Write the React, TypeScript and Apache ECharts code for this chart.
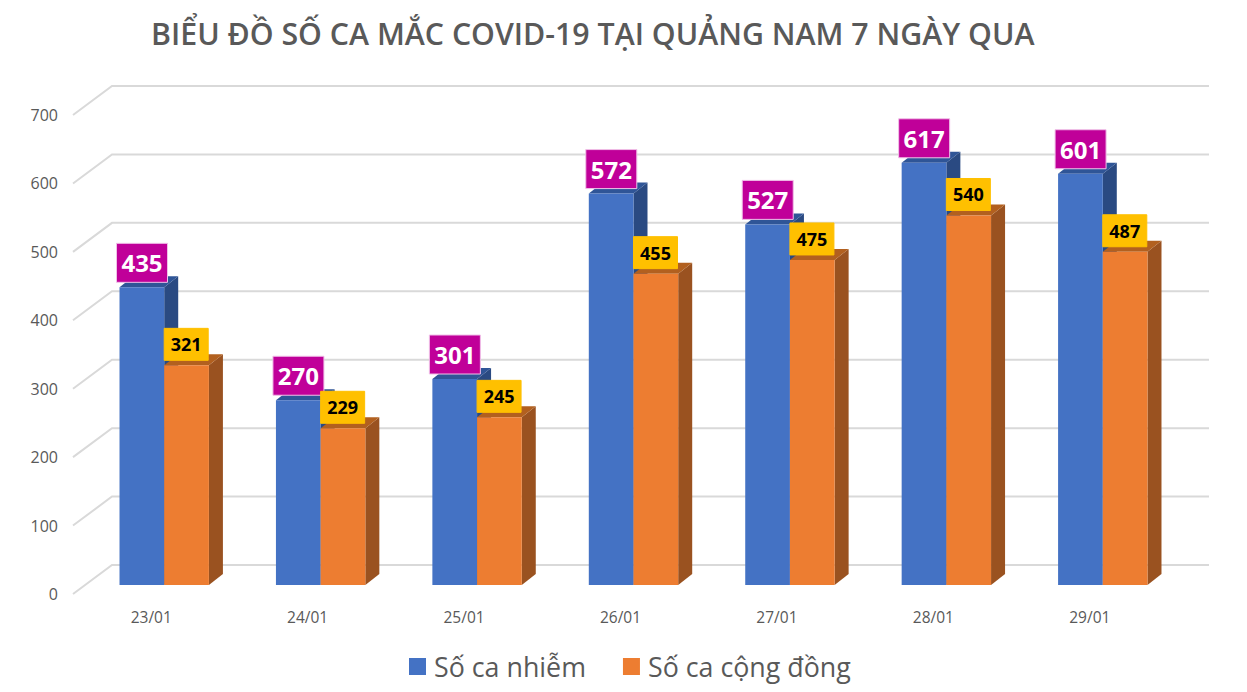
import React, { useEffect, useRef } from "react";
import * as echarts from "echarts";

const titleText = "BIỂU ĐỒ SỐ CA MẮC COVID-19 TẠI QUẢNG NAM 7 NGÀY QUA";
const categories = ["23/01", "24/01", "25/01", "26/01", "27/01", "28/01", "29/01"];
const infected = [435, 270, 301, 572, 527, 617, 601];
const community = [321, 229, 245, 455, 475, 540, 487];
const wallTicks = [0, 100, 200, 300, 400, 500, 600, 700];
const infectedName = "Số ca nhiễm";
const communityName = "Số ca cộng đồng";

const FRONT_DX = 11, FRONT_DY = -9;
const BAR_W = 44.7, DEPTH_DX = 14, DEPTH_DY = -11;
const WALL_DX = 39, WALL_DY = -29;
const FONT = '"Open Sans", "Noto Sans", sans-serif';

function bar3d(slot: number, front: string, top: string, side: string) {
  return (params: any, api: any) => {
    const i = api.value(0), v = api.value(1);
    const p = api.coord([i, v]);
    const base = api.coord([i, 0]);
    const xL = p[0] + FRONT_DX - BAR_W + slot * BAR_W + 2;
    const xR = xL + BAR_W;
    const yT = p[1] + FRONT_DY;
    const yB = base[1] + FRONT_DY;
    return {
      type: "group",
      children: [
        { type: "polygon", shape: { points: [[xR, yT], [xR + DEPTH_DX, yT + DEPTH_DY], [xR + DEPTH_DX, yB + DEPTH_DY], [xR, yB]] }, style: { fill: side } },
        { type: "polygon", shape: { points: [[xL, yT], [xL + DEPTH_DX, yT + DEPTH_DY], [xR + DEPTH_DX, yT + DEPTH_DY], [xR, yT]] }, style: { fill: top } },
        { type: "rect", shape: { x: xL, y: yT, width: BAR_W, height: yB - yT }, style: { fill: front } },
      ],
    };
  };
}

function tag(slot: number, w: number, h: number, gap: number, dx: number, fill: string, stroke: string, color: string, size: number) {
  return (params: any, api: any) => {
    const i = api.value(0), v = api.value(1);
    const p = api.coord([i, v]);
    const xL = p[0] + FRONT_DX - BAR_W + slot * BAR_W + 2 + dx;
    const yB = p[1] + FRONT_DY - gap;
    return {
      type: "group",
      children: [
        { type: "rect", shape: { x: xL, y: yB - h, width: w, height: h }, style: { fill, stroke, lineWidth: 1 } },
        { type: "text", style: { x: xL + w / 2, y: yB - h / 2, text: String(v), fill: color, font: `700 ${size}px ${FONT}`, align: "center", verticalAlign: "middle" } },
      ],
    };
  };
}

function wall(params: any, api: any) {
  const p = api.coord([0, api.value(0)]);
  const band = api.size([1, 0])[0];
  const x0 = p[0] - band / 2;
  const y0 = p[1];
  return {
    type: "polyline",
    shape: { points: [[x0, y0], [x0 + WALL_DX, y0 + WALL_DY], [x0 + band * categories.length + WALL_DX + 2, y0 + WALL_DY]] },
    style: { fill: "none", stroke: "#D9D9D9", lineWidth: 2 },
  };
}

export default function App() {
  const ref = useRef<HTMLDivElement>(null);
  useEffect(() => {
    document.body.style.margin = "0";
    const chart = echarts.init(ref.current!, null, { renderer: "svg" });
    const pairs = (arr: number[]) => arr.map((v, i) => [i, v]);
    chart.setOption({
      animation: false,
      backgroundColor: "#fff",
      title: {
        text: titleText,
        left: 146,
        top: 13,
        textStyle: { fontFamily: FONT, fontSize: 30.3, fontWeight: 600, color: "#595959" },
      },
      legend: {
        data: [
          { name: infectedName, itemStyle: { color: "#4472C4" } },
          { name: communityName, itemStyle: { color: "#ED7D31" } },
        ],
        left: 404,
        top: 648,
        icon: "rect",
        itemWidth: 17,
        itemHeight: 17,
        itemGap: 37,
        textStyle: { fontFamily: FONT, fontSize: 26.8, color: "#595959", padding: [0, 0, 0, 3] },
      },
      grid: { left: 73, width: 1095, top: 115, bottom: 98 },
      xAxis: {
        type: "category",
        data: categories,
        axisLine: { show: false },
        axisTick: { show: false },
        axisLabel: { fontFamily: FONT, fontSize: 15.5, color: "#595959", margin: 15 },
      },
      yAxis: {
        type: "value",
        min: 0,
        max: 700,
        interval: 100,
        splitLine: { show: false },
        axisLine: { show: false },
        axisTick: { show: false },
        axisLabel: { fontFamily: FONT, fontSize: 16, color: "#595959", margin: 15, padding: [6, 0, 0, 0] },
      },
      series: [
        { type: "custom", name: "wall", silent: true, data: wallTicks.map((v) => [v]), encode: { y: 0 }, renderItem: wall, z: 1 },
        { type: "custom", name: infectedName, data: pairs(infected), encode: { x: 0, y: 1 }, renderItem: bar3d(0, "#4472C4", "#2F5597", "#2A4A82"), z: 2 },
        { type: "custom", name: communityName, data: pairs(community), encode: { x: 0, y: 1 }, renderItem: bar3d(1, "#ED7D31", "#B2601F", "#9A5220"), z: 3 },
        { type: "custom", name: "tagA", data: pairs(infected), encode: { x: 0, y: 1 }, renderItem: tag(0, 51, 39, 5, -3, "#C00099", "#F0C0E8", "#fff", 24), z: 4 },
        { type: "custom", name: "tagB", data: pairs(community), encode: { x: 0, y: 1 }, renderItem: tag(1, 44, 32, 5, 0, "#FFC000", "#FFC000", "#000", 18), z: 5 },
      ],
    });
    return () => chart.dispose();
  }, []);
  return <div ref={ref} style={{ width: 1247, height: 692 }} />;
}
